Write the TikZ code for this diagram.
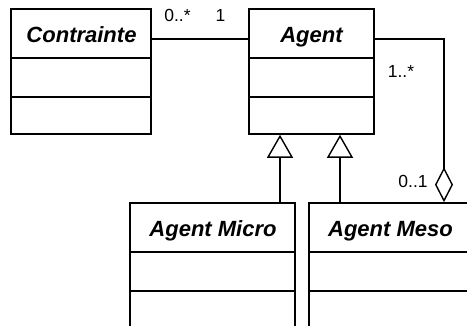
\documentclass[tikz,border=0pt]{standalone}
\usepackage{fontspec}
\setmainfont{Liberation Sans}
\usetikzlibrary{arrows.meta}
\tikzset{
  ln/.style={line width=1.6pt},
  cbox/.style={draw, line width=1.6pt, inner sep=0pt, fill=none},
  ctitle/.style={anchor=base, inner sep=0pt, font=\fontsize{22}{26}\selectfont\bfseries\itshape},
  mult/.style={inner sep=0pt, font=\fontsize{17.5}{20}\selectfont},
  gen/.style={ln, -{Triangle[open, length=23pt, width=26pt, line width=1.4pt]}},
  agg/.style={ln, -{Diamond[open, length=35pt, width=18pt, line width=1.4pt]}}
}
\begin{document}
\begin{tikzpicture}[x=1pt, y=-1pt]
\useasboundingbox (0,0) rectangle (467,326);
\clip (0,0) rectangle (467,326);
% classes
\node[cbox, minimum width=140pt, minimum height=125pt] (contrainte) at (81,71.5) {};
\node[cbox, minimum width=125pt, minimum height=125pt] (agent) at (311.5,71.5) {};
\node[cbox, minimum width=165pt, minimum height=150pt] (micro) at (212.5,278) {};
\node[cbox, minimum width=171pt, minimum height=150pt] (meso) at (394.5,278) {};
% titles
\node[ctitle] (contrainteT) at (81.5,43) {Contrainte};
\node[ctitle] (agentT) at (311.5,43) {Agent};
\node[ctitle] (microT) at (213,237) {Agent Micro};
\node[ctitle] (mesoT) at (390.5,237) {Agent Meso};
% compartments
\coordinate (c1) at (0,58);
\coordinate (c2) at (0,97);
\coordinate (c3) at (0,252);
\coordinate (c4) at (0,291);
\draw[ln] (contrainte.west |- c1) -- (contrainte.east |- c1);
\draw[ln] (contrainte.west |- c2) -- (contrainte.east |- c2);
\draw[ln] (agent.west |- c1) -- (agent.east |- c1);
\draw[ln] (agent.west |- c2) -- (agent.east |- c2);
\draw[ln] (micro.west |- c3) -- (micro.east |- c3);
\draw[ln] (micro.west |- c4) -- (micro.east |- c4);
\draw[ln] (meso.west |- c3) -- (meso.east |- c3);
\draw[ln] (meso.west |- c4) -- (meso.east |- c4);
% association
\coordinate (assoc) at (200,39);
\draw[ln] (contrainte.east |- assoc) -- (agent.west |- assoc);
\node[mult] (m1) at (177.5,15.5) {0..*};
\node[mult] (m2) at (220.5,15.5) {1};
% aggregation
\coordinate (aggx) at (444,0);
\draw[agg] (agent.east |- assoc) -| (meso.north -| aggx);
\node[mult] (m3) at (401,71.5) {1..*};
\node[mult] (m4) at (413,181.5) {0..1};
% generalisations
\coordinate (g1) at (280,0);
\coordinate (g2) at (340,0);
\draw[gen] (micro.north -| g1) -- (agent.south -| g1);
\draw[gen] (meso.north -| g2) -- (agent.south -| g2);
\end{tikzpicture}
\end{document}
